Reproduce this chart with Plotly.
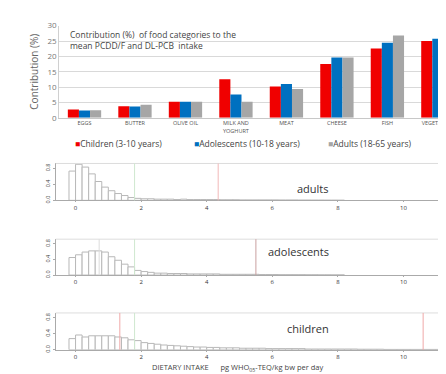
import plotly.graph_objects as go

W, H = 446, 374

# ---------------- data ----------------
categories = ["EGGS", "BUTTER", "OLIVE OIL", "MILK AND<br>YOGHURT", "MEAT", "CHEESE", "FISH", "VEGETABLES"]
children_pct = [2.7, 3.8, 5.2, 12.6, 10.2, 17.5, 22.6, 25.0]
adolescents_pct = [2.4, 3.7, 5.2, 7.6, 11.0, 19.6, 24.4, 25.7]
adults_pct = [2.5, 4.3, 5.2, 5.2, 9.4, 19.6, 26.8, 26.3]
series_names = ["Children (3-10 years)", "Adolescents (10-18 years)", "Adults (18-65 years)"]

bin_width = 0.2
bin_start = -0.2
adults_density = [0.73, 0.90, 0.83, 0.66, 0.47, 0.33, 0.24, 0.17, 0.12, 0.07, 0.05, 0.04, 0.04, 0.03,
                  0.03, 0.03, 0.02, 0.03, 0.02, 0.02, 0.02, 0.02, 0.02, 0.015, 0.015, 0.015, 0.01, 0.01,
                  0.01, 0.01, 0.01, 0.01, 0.008, 0.008, 0.008, 0.006, 0.006, 0.005, 0.005, 0.004, 0.004, 0.003]
adolescents_density = [0.45, 0.52, 0.59, 0.62, 0.62, 0.59, 0.47, 0.38, 0.28, 0.21, 0.12, 0.09, 0.07, 0.05,
                       0.05, 0.04, 0.04, 0.04, 0.03, 0.03, 0.03, 0.03, 0.03, 0.02, 0.02, 0.02, 0.02, 0.02,
                       0.02, 0.015, 0.015, 0.015, 0.01, 0.01, 0.01, 0.01, 0.008, 0.008, 0.006, 0.006, 0.005, 0.004]
children_density = [0.28, 0.37, 0.32, 0.35, 0.35, 0.35, 0.35, 0.32, 0.30, 0.25, 0.23, 0.18, 0.16, 0.14,
                    0.12, 0.11, 0.10, 0.09, 0.08, 0.07, 0.07, 0.06, 0.06, 0.05, 0.05, 0.05, 0.04, 0.04,
                    0.04, 0.04, 0.03, 0.03, 0.03, 0.03, 0.03, 0.03, 0.02, 0.02, 0.02, 0.02, 0.02, 0.02,
                    0.02, 0.02, 0.015, 0.015, 0.015, 0.015, 0.01, 0.01, 0.01, 0.01, 0.01, 0.01, 0.01, 0.01,
                    0.01, 0.01, 0.008, 0.008]

# vertical reference lines (intake values)
adults_lines = [(1.8, "#cfe8cf"), (4.35, "#f2b8b8")]
adolescents_lines = [(0.72, "#dddddd"), (1.8, "#cfe8cf"), (5.5, "#c9a0a0")]
children_lines = [(1.35, "#f0a8a8"), (1.8, "#cfe8cf"), (10.6, "#f0a8a8")]

hist_ticks = [0, 2, 4, 6, 8, 10]
pct_ticks = [0, 5, 10, 15, 20, 25, 30]

colors = ["#f00000", "#0070c0", "#a6a6a6"]


def py(p):
    return 1 - p / H


def px(p):
    return p / W


fig = go.Figure()

for name, vals, col in zip(series_names, [children_pct, adolescents_pct, adults_pct], colors):
    fig.add_trace(go.Bar(x=categories, y=vals, name=name, marker=dict(color=col, line=dict(width=0)),
                         xaxis="x", yaxis="y", showlegend=False))

panels = [("adults", adults_density, "2", (154, 192), adults_lines, 180),
          ("adolescents", adolescents_density, "3", (232, 269), adolescents_lines, 255),
          ("children", children_density, "4", (308, 346), children_lines, 334)]

for label, dens, ax, (top, bot), lines, ly in panels:
    centers = [bin_start + bin_width * (i + 0.5) for i in range(len(dens))]
    fig.add_trace(go.Bar(x=centers, y=dens, width=bin_width, xaxis="x" + ax, yaxis="y" + ax,
                         marker=dict(color="white", line=dict(color="#b8b8b8", width=1)),
                         showlegend=False))

layout = dict(
    width=W, height=H, margin=dict(l=0, r=0, t=0, b=0),
    paper_bgcolor="white", plot_bgcolor="white",
    barmode="group", bargap=0.34, bargroupgap=0.0,
    font=dict(family="Open Sans, Arial, sans-serif", color="#444"),
    xaxis=dict(domain=[px(51.6), 1], range=[-0.5, 7.26], tickfont=dict(size=5.5, color="#555"),
               showline=True, linecolor="#c8c8c8", ticks="", showgrid=False, anchor="y"),
    yaxis=dict(domain=[py(107), py(12)], range=[0, 30], tickvals=pct_ticks,
               tickfont=dict(size=8, color="#777"), gridcolor="#d9d9d9", showline=True,
               linecolor="#d0d0d0", zeroline=False, ticks="", anchor="x",
               title=dict(text="Contribution (%)", font=dict(size=10, color="#666"), standoff=6)),
)

shapes = []
annotations = []

for label, dens, ax, (top, bot), lines, ly in panels:
    layout["xaxis" + ax] = dict(domain=[px(48), 1], range=[-0.606, 11.45], tickvals=hist_ticks,
                                tickfont=dict(size=6, color="#333"), showline=True, linecolor="#aaaaaa",
                                ticks="outside", ticklen=1, tickcolor="#aaaaaa", showgrid=False,
                                zeroline=False, anchor="y" + ax)
    layout["yaxis" + ax] = dict(domain=[py(bot), py(top)], range=[0, 0.92], tickvals=[0, 0.4, 0.8],
                                ticktext=["0.0", "0.4", "0.8"], tickangle=-90,
                                tickfont=dict(size=5.5, color="#444"), showline=True, linecolor="#aaaaaa",
                                ticks="outside", ticklen=2, tickcolor="#aaaaaa", showgrid=False,
                                zeroline=False, anchor="x" + ax)
    # top border of frame
    shapes.append(dict(type="line", xref="x%s domain" % ax, yref="y%s domain" % ax,
                       x0=0, x1=1, y0=1, y1=1, line=dict(color="#dddddd", width=1)))
    for xv, c in lines:
        shapes.append(dict(type="line", xref="x" + ax, yref="y%s domain" % ax,
                           x0=xv, x1=xv, y0=0, y1=1, line=dict(color=c, width=1)))
    annotations.append(dict(text=label, x=px(325), y=py(ly), xref="paper", yref="paper",
                            showarrow=False, font=dict(size=11, color="#333")))

annotations.append(dict(text="Contribution (%)  of food categories to the<br>mean PCDD/F and DL-PCB  intake",
                        x=px(60), y=py(27), xref="paper", yref="paper", xanchor="left", yanchor="middle",
                        align="left", showarrow=False, font=dict(size=8.5, color="#444")))

legend_x = [65, 185, 320]
for name, col, lx in zip(series_names, colors, legend_x):
    annotations.append(dict(text="<span style='color:%s'>■</span>%s" % (col, name),
                            x=px(lx), y=py(133), xref="paper", yref="paper", xanchor="left",
                            yanchor="middle", showarrow=False, font=dict(size=8.5, color="#444")))

annotations.append(dict(text="DIETARY INTAKE      pg WHO<sub>05</sub>-TEQ/kg bw per day",
                        x=px(232), y=py(372), xref="paper", yref="paper", showarrow=False,
                        yanchor="bottom", borderpad=0,
                        font=dict(size=7.5, color="#444")))

layout["shapes"] = shapes
layout["annotations"] = annotations
layout["showlegend"] = False
fig.update_layout(**layout)

fig.write_html("out.html")
